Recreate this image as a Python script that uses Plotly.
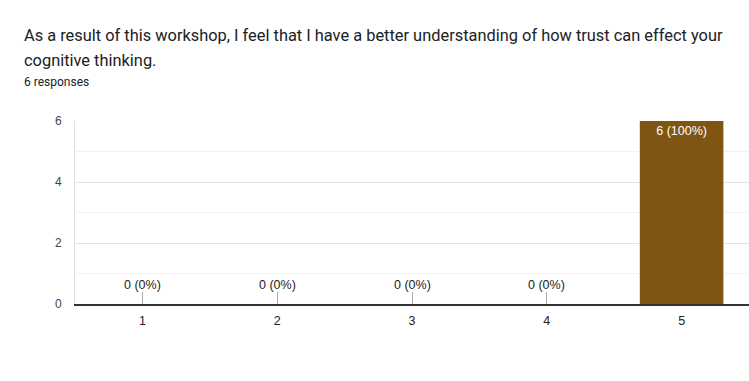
import plotly.graph_objects as go

categories = ["1", "2", "3", "4", "5"]
counts = [0, 0, 0, 0, 6]
total = sum(counts)
labels = [f"{c} ({round(100 * c / total)}%)" for c in counts]

title_line1 = "As a result of this workshop, I feel that I have a better understanding of how trust can effect your"
title_line2 = "cognitive thinking."
subtitle = "6 responses"

bar_color = "#7f5513"
chart_font = "Liberation Sans, Arial, sans-serif"

fig = go.Figure()
fig.add_trace(go.Bar(
    x=categories,
    y=counts,
    marker=dict(color=bar_color, line=dict(width=0)),
    width=0.62,
    text=[l if c > 0 else "" for l, c in zip(labels, counts)],
    textposition="inside",
    insidetextanchor="end",
    textangle=0,
    insidetextfont=dict(color="white", size=12.5, family=chart_font),
    hoverinfo="skip",
))

annotations = []
for i, (c, l) in enumerate(zip(counts, labels)):
    if c == 0:
        annotations.append(dict(
            x=i, y=c, xref="x", yref="y", text=l, showarrow=False,
            yanchor="bottom", yshift=10,
            font=dict(size=12.5, color="#222", family=chart_font),
        ))

annotations += [
    dict(x=0, y=1, xref="paper", yref="paper", xanchor="left", yanchor="middle",
         xshift=-53, yshift=86, text=title_line1, showarrow=False,
         font=dict(family="Roboto", size=16.4, color="#202124")),
    dict(x=0, y=1, xref="paper", yref="paper", xanchor="left", yanchor="middle",
         xshift=-53, yshift=61, text=title_line2, showarrow=False,
         font=dict(family="Roboto", size=16.4, color="#202124")),
    dict(x=0, y=1, xref="paper", yref="paper", xanchor="left", yanchor="middle",
         xshift=-53, yshift=39, text=subtitle, showarrow=False,
         font=dict(family="Roboto", size=12, color="#202124")),
]

fig.update_layout(
    width=749, height=381,
    margin=dict(l=75, r=0, t=121, b=77),
    paper_bgcolor="white", plot_bgcolor="white",
    showlegend=False,
    annotations=annotations,
    font=dict(family=chart_font, size=12, color="#444"),
)
fig.update_xaxes(
    type="category",
    categoryorder="array", categoryarray=categories,
    range=[-0.5, 4.5],
    showgrid=False,
    showline=True, linecolor="#333", linewidth=1.5,
    ticks="inside", ticklen=12, tickcolor="#aaa", tickwidth=1,
    ticklabelstandoff=4,
    tickfont=dict(size=12.5, color="#222", family=chart_font),
    layer="below traces",
    fixedrange=True,
)
fig.update_yaxes(
    range=[0, 6],
    dtick=2, tick0=0,
    showgrid=True, gridcolor="#e4e4e4", gridwidth=1,
    minor=dict(dtick=1, showgrid=True, gridcolor="#f2f2f2", gridwidth=1),
    showline=True, linecolor="#e0e0e0", linewidth=1, mirror=True,
    zeroline=False,
    ticks="", ticklabelstandoff=10,
    tickfont=dict(size=12, color="#444", family=chart_font),
    fixedrange=True,
)

fig.write_html("out.html")
